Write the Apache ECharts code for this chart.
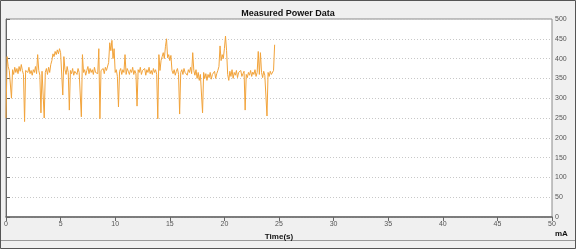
<!DOCTYPE html>
<html><head><meta charset="utf-8">
<script src="https://cdn.jsdelivr.net/npm/echarts@6/dist/echarts.min.js"></script>
<style>html,body{margin:0;padding:0;background:#f0f0f0}#c{width:576px;height:249px}</style>
</head><body><div id="c"></div>
<script>
const title = 'Measured Power Data';
const xName = 'Time(s)';
const yName = 'mA';
const timeStep = 0.1;
const power = [
250,405,380,370,365,300,372,360,378,365,
375,362,380,368,385,370,360,241,370,375,
365,378,362,370,358,372,365,380,362,410,
370,358,263,368,372,250,365,375,360,378,
365,385,395,412,405,418,410,422,412,425,
415,420,308,405,372,360,380,365,270,370,
362,375,358,368,372,360,375,365,362,253,
410,365,372,358,370,380,362,375,365,372,
360,378,365,370,362,425,248,370,365,375,
362,378,370,365,390,440,420,446,400,425,
365,372,355,278,368,375,360,372,365,410,
360,375,368,360,372,365,378,360,370,362,
280,372,365,378,360,370,365,375,358,372,
365,378,362,370,360,375,365,372,360,248,
410,370,395,405,415,400,430,450,402,410,
395,408,370,362,372,358,368,375,360,260,
365,372,360,375,365,370,358,372,365,378,
362,415,370,358,372,350,365,345,360,355,
263,365,350,362,345,360,352,365,348,360,
355,368,350,362,370,380,432,395,410,400,
425,457,420,360,345,368,355,372,350,365,
358,370,352,365,360,370,355,362,368,270,
360,352,365,358,370,355,366,360,372,355,
365,418,360,415,365,352,368,358,362,255,
365,355,368,360,365,370,435
];
const times = power.map((v,i)=>+(i*timeStep).toFixed(1));
const data = power.map((v,i)=>[times[i], v]);

const chart = echarts.init(document.getElementById('c'), null, {renderer:'canvas'});
chart.setOption({
  animation:false,
  backgroundColor:'#f0f0f0',
  textStyle:{fontFamily:'Liberation Sans, Arial, sans-serif'},
  title:{text:title,left:'center',top:4,textStyle:{fontSize:9,fontWeight:'bold',color:'#111'}},
  grid:{left:6,top:19,width:546,height:198,show:true,backgroundColor:'#ffffff',borderColor:'#8a8a8a',borderWidth:1},
  xAxis:{type:'value',min:0,max:50,interval:5,
    name:xName,nameLocation:'middle',nameGap:15,
    nameTextStyle:{fontSize:8,fontWeight:'bold',color:'#111'},
    axisLine:{show:true,lineStyle:{color:'#666',width:1.5}},
    axisTick:{show:true,length:4,lineStyle:{color:'#666'}},
    axisLabel:{fontSize:7,color:'#555',margin:4},
    splitLine:{show:false}},
  yAxis:{type:'value',position:'right',min:0,max:500,interval:50,
    axisLine:{show:true,lineStyle:{color:'#666',width:1}},
    axisTick:{show:true,length:4,lineStyle:{color:'#666'}},
    axisLabel:{fontSize:7,color:'#555',margin:3},
    splitLine:{show:true,lineStyle:{color:'#c8c8c8',type:[1,2],width:1}}},
  graphic:[
    {type:'rect',shape:{x:0.5,y:0.5,width:575,height:248},style:{fill:null,stroke:'#555',lineWidth:1},silent:true,z:-1},
    {type:'line',shape:{x1:1,y1:240.5,x2:575,y2:240.5},style:{stroke:'#999',lineWidth:1},silent:true},
    {type:'text',left:555,top:230,style:{text:yName,font:'bold 8px Liberation Sans, Arial, sans-serif',fill:'#111'}}
  ],
  series:[{type:'line',data:data,showSymbol:false,symbol:'none',
    lineStyle:{color:'#f2a33a',width:1},itemStyle:{color:'#f2a33a'}}]
});
</script></body></html>
